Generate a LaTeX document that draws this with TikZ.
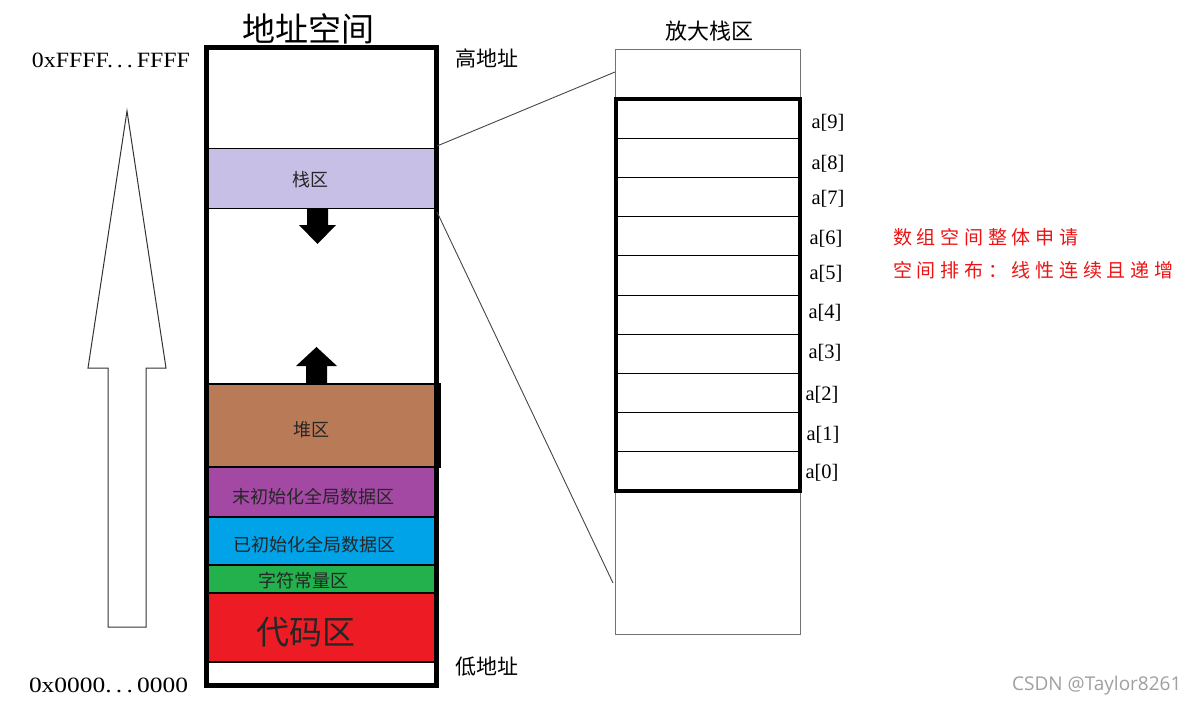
\documentclass[tikz,border=0pt]{standalone}
\usepackage{fontspec}
\usepackage{graphicx}
\setmainfont{Liberation Serif}
\newfontfamily\cjk{Noto Sans CJK SC}
\newfontfamily\cjkred{Noto Sans CJK SC}[LetterSpace=25]
\newfontfamily\wmfont{Open Sans}
\definecolor{stackc}{RGB}{200,191,231}
\definecolor{heapc}{RGB}{185,122,87}
\definecolor{bssc}{RGB}{163,73,164}
\definecolor{datac}{RGB}{0,162,232}
\definecolor{rodatac}{RGB}{34,177,76}
\definecolor{codec}{RGB}{237,28,36}
\definecolor{redtxt}{RGB}{235,20,20}
\definecolor{wmc}{RGB}{160,160,160}
\definecolor{connc}{RGB}{70,70,70}
\begin{document}
\begin{tikzpicture}[x=1pt,y=-1pt,
  region/.style={draw=black, line width=1.5pt, inner sep=0pt, outer sep=0pt, anchor=north west, minimum width=229pt},
  rlabel/.style={font=\cjk\fontsize{18}{20}\selectfont, text=black!85, inner sep=0pt},
  cell/.style={draw=black, line width=1pt, inner sep=0pt, outer sep=0pt, anchor=north west, minimum width=185pt, minimum height=39.2pt},
  idx/.style={font=\fontsize{20.5}{22}\selectfont, inner sep=0pt},
  conn/.style={draw=connc, line width=0.9pt},
  hexlab/.style={font=\fontsize{20}{22}\selectfont, inner sep=0pt},
  cjklab/.style={font=\cjk\fontsize{21}{24}\selectfont, inner sep=0pt}
]
\useasboundingbox (0,0) rectangle (1196,707);
\fill[white] (0,0) rectangle (1196,707);

% hollow arrow
\draw[line width=1pt, draw=black!80, line join=miter] (127,111) -- (166,368) -- (146,368) -- (146,627) -- (108,627) -- (108,368) -- (88,368) -- cycle;

% address labels
\node[hexlab] (hi) at (111,60) {\resizebox{158pt}{14.5pt}{0xFFFF.\,.\,.\,FFFF}};
\node[hexlab] (lo) at (108.5,685) {\resizebox{159pt}{14.5pt}{0x0000.\,.\,.\,0000}};

% regions
\node[region, fill=stackc, line width=1pt, minimum height=60pt] (stack) at (207,148) {};
\node[region, fill=heapc, minimum width=233pt, minimum height=83pt] (heap) at (207,384) {};
\node[region, fill=bssc, minimum height=50pt] (bss) at (207,467) {};
\node[region, fill=datac, minimum height=48pt] (data) at (207,517) {};
\node[region, fill=rodatac, minimum height=28pt] (rodata) at (207,565) {};
\node[region, fill=codec, minimum height=69pt] (code) at (207,593) {};

% outer box
\node[draw=black, line width=5pt, inner sep=0pt, outer sep=0pt, anchor=north west, minimum width=230pt, minimum height=637.5pt] (space) at (206.5,47.5) {};

% region labels
\node[rlabel] (stackL) at (310,180) {栈区};
\node[rlabel] (heapL) at (311,430) {堆区};
\node[rlabel] (bssL) at (313,497) {末初始化全局数据区};
\node[rlabel] (dataL) at (314,545) {已初始化全局数据区};
\node[rlabel] (rodataL) at (303,581) {字符常量区};
\node[rlabel, font=\cjk\fontsize{33}{36}\selectfont] (codeL) at (306,632) {代码区};

% growth arrows
\fill[black] (307,208) -- (328,208) -- (328,225) -- (336,225) -- (317.5,244) -- (299,225) -- (307,225) -- cycle;
\fill[black] (306,384) -- (306,366) -- (296,366) -- (316.5,347) -- (337,366) -- (327,366) -- (327,384) -- cycle;

% titles
\node[font=\cjk\fontsize{33}{36}\selectfont, inner sep=0pt] (title) at (308.5,29) {地址空间};
\node[cjklab, anchor=west] (high) at (455,58) {高地址};
\node[cjklab, anchor=west] (low) at (455,667) {低地址};
\node[font=\cjk\fontsize{22}{24}\selectfont, inner sep=0pt] (ztitle) at (709,31) {放大栈区};

% zoomed stack
\node[draw=black!55, line width=0.9pt, inner sep=0pt, outer sep=0pt, anchor=north west, minimum width=185pt, minimum height=585pt] (zoom) at (615,49) {};
\foreach \i in {0,...,9} {
  \node[cell] (c\i) at (615,{491-39.2*(\i+1)}) {};
}
\node[draw=black, line width=3.5pt, inner sep=0pt, outer sep=0pt, anchor=north west, minimum width=184pt, minimum height=392pt] (arr) at (616,99) {};

% index labels
\node[idx] (l9) at (828,123) {a[9]};
\node[idx] (l8) at (828,164) {a[8]};
\node[idx] (l7) at (828,199) {a[7]};
\node[idx] (l6) at (826,239) {a[6]};
\node[idx] (l5) at (826,274) {a[5]};
\node[idx] (l4) at (825,313) {a[4]};
\node[idx] (l3) at (825,353) {a[3]};
\node[idx] (l2) at (822,395) {a[2]};
\node[idx] (l1) at (823,435) {a[1]};
\node[idx] (l0) at (822,473) {a[0]};

% connectors
\coordinate (z1) at (615,72);
\coordinate (z2) at (613,583);
\draw[conn] ([xshift=1pt,yshift=2pt]stack.north east) -- (z1);
\draw[conn] ([xshift=1pt,yshift=-4pt]stack.south east) -- (z2);

% notes
\node[anchor=west, inner sep=0pt, text=redtxt, font=\cjkred\fontsize{19}{22}\selectfont] (note1) at (893,237) {数组空间整体申请};
\node[anchor=west, inner sep=0pt, text=redtxt, font=\cjkred\fontsize{19}{22}\selectfont] (note2) at (893,270) {空间排布：线性连续且递增};

% watermark
\node[anchor=west, inner sep=0pt, text=wmc, font=\wmfont\fontsize{19}{21}\selectfont] (wm) at (1012,686) {CSDN @Taylor8261};
\end{tikzpicture}
\end{document}
